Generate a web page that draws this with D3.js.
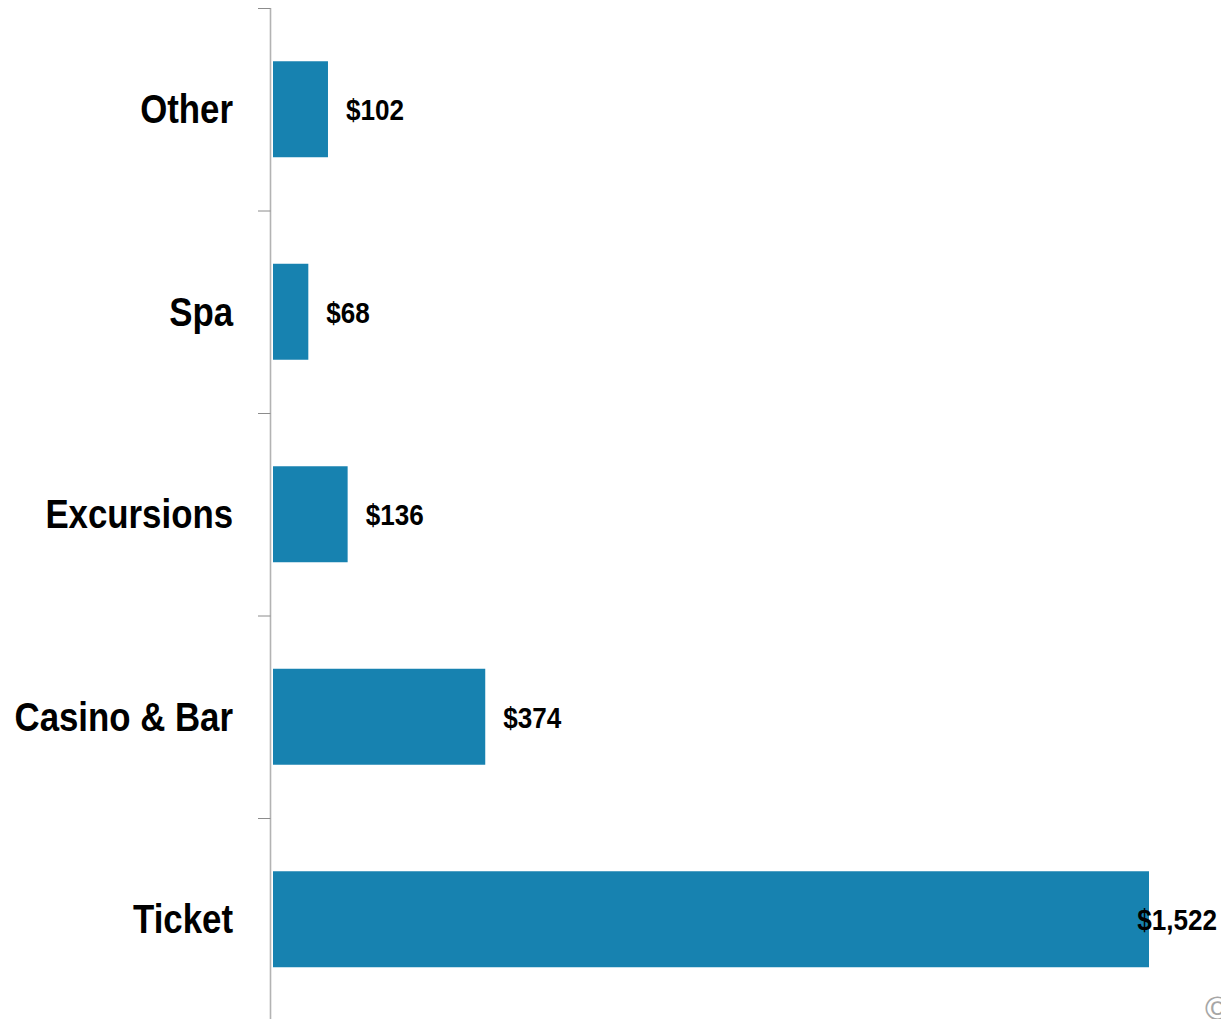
<!DOCTYPE html>
<html>
<head>
<meta charset="utf-8">
<script src="https://cdn.jsdelivr.net/npm/d3@7"></script>
<style>
  html, body { margin: 0; padding: 0; background: #fff; }
  svg { display: block; }
  .cat, .val { font-family: "Liberation Sans", Arial, sans-serif; font-weight: bold; fill: #000; }
</style>
</head>
<body>
<svg id="chart" width="1221" height="1019"></svg>
<script>
// Average spend per cruise passenger, by category (top to bottom)
const categories = ["Other", "Spa", "Excursions", "Casino & Bar", "Ticket"];
const spend = [102, 68, 136, 374, 1522];
const valueLabels = ["$102", "$68", "$136", "$374", "$1,522"];

const W = 1221, H = 1019;
const narrow = 0.87; // horizontal squeeze for a condensed look
const svg = d3.select("#chart");

const axisX = 270.5;
const x = d3.scaleLinear().domain([0, 1522]).range([269, 1149]);
const y = d3.scaleBand()
  .domain(categories)
  .range([8, 1020.5])
  .paddingInner(0.526)
  .paddingOuter(0.263);

const step = y.step();
const y0 = y.range()[0];

// bars
svg.append("g")
  .selectAll("rect")
  .data(categories)
  .join("rect")
  .attr("x", x(0) + 4)
  .attr("y", d => y(d))
  .attr("width", (d, i) => x(spend[i]) - x(0) - 4)
  .attr("height", y.bandwidth())
  .attr("fill", "#1782b0");

// vertical axis line with ticks at band boundaries
const axis = svg.append("g");
axis.append("line")
  .attr("x1", axisX).attr("x2", axisX)
  .attr("y1", y0).attr("y2", H + 2)
  .attr("stroke", "#b3b3b3").attr("stroke-width", 1.6);
axis.selectAll("line.tick")
  .data(d3.range(categories.length + 1))
  .join("line")
  .attr("class", "tick")
  .attr("x1", 258).attr("x2", axisX)
  .attr("y1", i => y0 + i * step + 0.5)
  .attr("y2", i => y0 + i * step + 0.5)
  .attr("stroke", "#8c8c8c").attr("stroke-width", 1);

// category labels
svg.append("g")
  .selectAll("g")
  .data(categories)
  .join("g")
  .attr("transform", d => `translate(233,${y(d) + y.bandwidth() / 2}) scale(${narrow},1)`)
  .append("text")
  .attr("class", "cat")
  .attr("dy", "0.35em")
  .attr("text-anchor", "end")
  .style("font-size", "40px")
  .text(d => d);

// value labels, kept inside the right edge
svg.append("g")
  .selectAll("g")
  .data(categories)
  .join("g")
  .each(function (d, i) {
    const g = d3.select(this);
    const t = g.append("text")
      .attr("class", "val")
      .attr("dy", "0.37em")
      .style("font-size", "30px")
      .text(valueLabels[i]);
    const w = t.node().getComputedTextLength() * narrow;
    const px = Math.min(x(spend[i]) + 18, W - 4 - w);
    g.attr("transform", `translate(${px},${y(d) + y.bandwidth() / 2}) scale(${narrow},1)`);
  });

// copyright mark at the corner
svg.append("text")
  .attr("x", 1205)
  .attr("y", 1020)
  .style("font-family", "Liberation Sans, Arial, sans-serif")
  .style("font-size", "34px")
  .attr("fill", "#a6a6a6")
  .text("©");
</script>
</body>
</html>
